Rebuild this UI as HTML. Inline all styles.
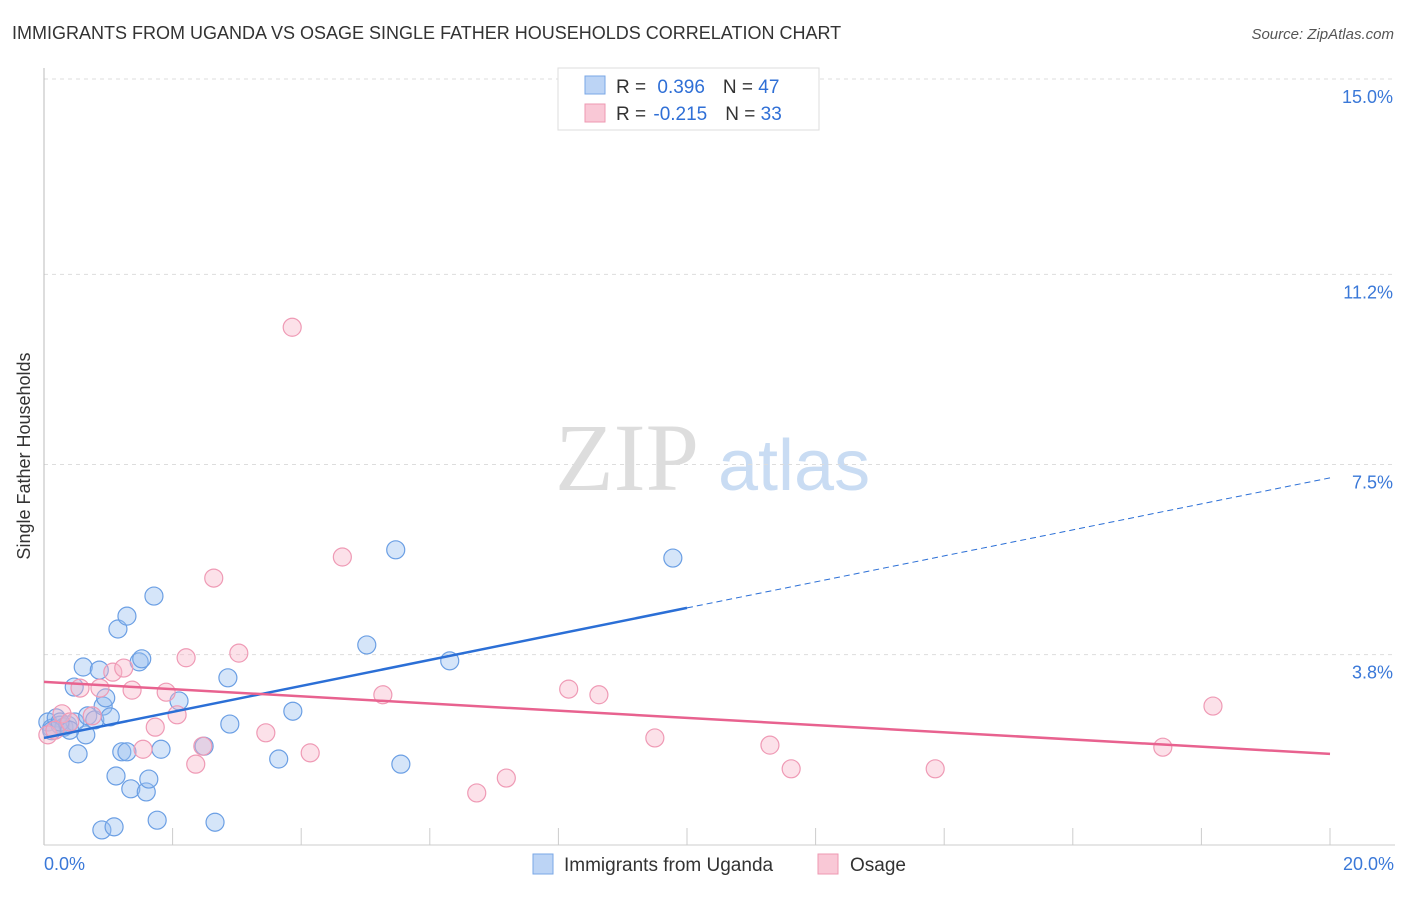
<!DOCTYPE html>
<html><head><meta charset="utf-8"><style>
body{margin:0;background:#fff;font-family:"Liberation Sans",sans-serif}
</style></head><body>
<svg width="1406" height="892" xmlns="http://www.w3.org/2000/svg" font-family="Liberation Sans, sans-serif">
<text x="12" y="39" font-size="18" fill="#333">IMMIGRANTS FROM UGANDA VS OSAGE SINGLE FATHER HOUSEHOLDS CORRELATION CHART</text>
<text x="1394" y="39" font-size="15" fill="#555" font-style="italic" text-anchor="end">Source: ZipAtlas.com</text>
<text x="30" y="456" font-size="18" fill="#333" text-anchor="middle" transform="rotate(-90 30 456)">Single Father Households</text>
<g><text x="555" y="490" font-size="96" fill="#ddd" font-family="Liberation Serif, serif">ZIP</text><text x="718" y="490" font-size="72" fill="#c9dcf3">atlas</text></g>
<g id="grid"></g><g id="axes"></g><g id="pts"></g><g id="trend"></g>
<g>
<rect x="558" y="68" width="261" height="62" fill="#fff" stroke="#ddd"/>
<rect x="585" y="76" width="20" height="18" fill="#bcd4f5" stroke="#7aa7e6"/>
<rect x="585" y="104" width="20" height="18" fill="#f9c8d6" stroke="#ee98b2"/>
<text x="616" y="93" font-size="19" fill="#333">R = <tspan fill="#2f6fd6" dx="6">0.396</tspan><tspan dx="18" fill="#333">N = </tspan><tspan fill="#2f6fd6">47</tspan></text>
<text x="616" y="120" font-size="19" fill="#333">R = <tspan fill="#2f6fd6" dx="2">-0.215</tspan><tspan dx="18" fill="#333">N = </tspan><tspan fill="#2f6fd6">33</tspan></text>
</g>
<g>
<rect x="533" y="854" width="20" height="20" fill="#bcd4f5" stroke="#7aa7e6"/>
<text x="564" y="871" font-size="19" fill="#333">Immigrants from Uganda</text>
<rect x="818" y="854" width="20" height="20" fill="#f9c8d6" stroke="#ee98b2"/>
<text x="850" y="871" font-size="19" fill="#333">Osage</text>
</g>
</svg>
<script>
const blueX=[0.06,0.12,0.19,0.25,0.31,0.37,0.48,0.53,0.61,0.65,0.68,0.79,0.86,0.92,0.96,1.03,0.47,1.12,1.15,1.21,1.29,1.29,1.35,1.48,1.52,1.59,1.63,1.71,1.76,1.82,2.10,2.49,2.66,2.86,2.89,3.65,3.87,5.02,5.47,5.55,6.31,9.78,0.90,1.09,0.12,0.25,0.40];
const blueY=[2.49,2.37,2.57,2.43,2.39,2.43,2.49,1.87,3.56,2.24,2.61,2.53,3.50,2.80,2.96,2.59,3.17,1.44,4.30,1.91,1.91,4.55,1.19,3.66,3.72,1.13,1.38,4.94,0.58,1.96,2.90,2.02,0.54,3.35,2.45,1.77,2.70,3.99,5.84,1.67,3.68,5.68,0.39,0.45,2.32,2.49,2.33];
const pinkX=[0.06,0.17,0.28,0.40,0.56,0.75,0.87,1.07,1.24,1.37,1.54,1.73,1.90,2.07,2.21,2.36,2.47,2.64,3.03,3.45,3.86,4.14,4.64,5.27,6.73,7.19,8.16,8.63,9.50,11.29,11.62,13.86,17.40,18.18];
const pinkY=[2.24,2.33,2.65,2.49,3.15,2.61,3.15,3.46,3.54,3.11,1.96,2.39,3.07,2.63,3.74,1.67,2.02,5.29,3.83,2.28,10.17,1.89,5.70,3.02,1.11,1.40,3.13,3.02,2.18,2.04,1.58,1.58,2.00,2.80];
const yTicks=[3.8,7.5,11.2,15.0];
const xTickLabels=["0.0%","20.0%"];
const blueTrend=[2.18,7.24];
const pinkTrend=[3.27,1.87];
const NS="http://www.w3.org/2000/svg";
const X=v=>44+v/20*1286, Y=v=>850-v*51.4;
function mk(t,a,p){const e=document.createElementNS(NS,t);for(const k in a)e.setAttribute(k,a[k]);document.getElementById(p).appendChild(e);return e;}
yTicks.forEach(t=>{
 const l=mk('line',{x1:44,x2:1395,y1:Y(t),y2:Y(t),stroke:'#ddd','stroke-dasharray':'4,4'},'grid');
 
 
 const tx=mk('text',{x:1393,y:Y(t)+24,'font-size':18,fill:'#3a78d8','text-anchor':'end'},'grid');
 tx.textContent=t.toFixed(1)+'%';
 
 
});
mk('line',{x1:44,x2:44,y1:68,y2:845,stroke:'#bbb'},'axes');
mk('line',{x1:44,x2:1395,y1:845,y2:845,stroke:'#ccc'},'axes');
for(let i=1;i<=10;i++){const x=X(i*2);const l=mk('line',{x1:x,x2:x,y1:828,y2:845,stroke:'#ccc'},'axes');
 
 }
[[0,'start',44],[20,'end',1394]].forEach((d,i)=>{const t=mk('text',{x:d[2],y:870,'font-size':18,fill:'#3a78d8','text-anchor':d[1]},'axes');t.textContent=xTickLabels[i];
 
 });
blueX.forEach((x,i)=>{const c=mk('circle',{cx:X(x),cy:Y(blueY[i]),r:9,fill:'rgba(150,190,240,0.4)',stroke:'#6b9fe4','stroke-width':1.2},'pts');
 
 });
pinkX.forEach((x,i)=>{const c=mk('circle',{cx:X(x),cy:Y(pinkY[i]),r:9,fill:'rgba(248,180,200,0.4)',stroke:'#ef9ab5','stroke-width':1.2},'pts');
 
 });
const bm=v=>blueTrend[0]+(blueTrend[1]-blueTrend[0])*v/20;
let l=mk('line',{x1:X(0),y1:Y(bm(0)),x2:X(10),y2:Y(bm(10)),stroke:'#2b6fd6','stroke-width':2.5},'trend');


l=mk('line',{x1:X(10),y1:Y(bm(10)),x2:X(20),y2:Y(bm(20)),stroke:'#2b6fd6','stroke-width':1,'stroke-dasharray':'6,4'},'trend');


l=mk('line',{x1:X(0),y1:Y(pinkTrend[0]),x2:X(20),y2:Y(pinkTrend[1]),stroke:'#e8628f','stroke-width':2.5},'trend');


</script>
</body></html>
